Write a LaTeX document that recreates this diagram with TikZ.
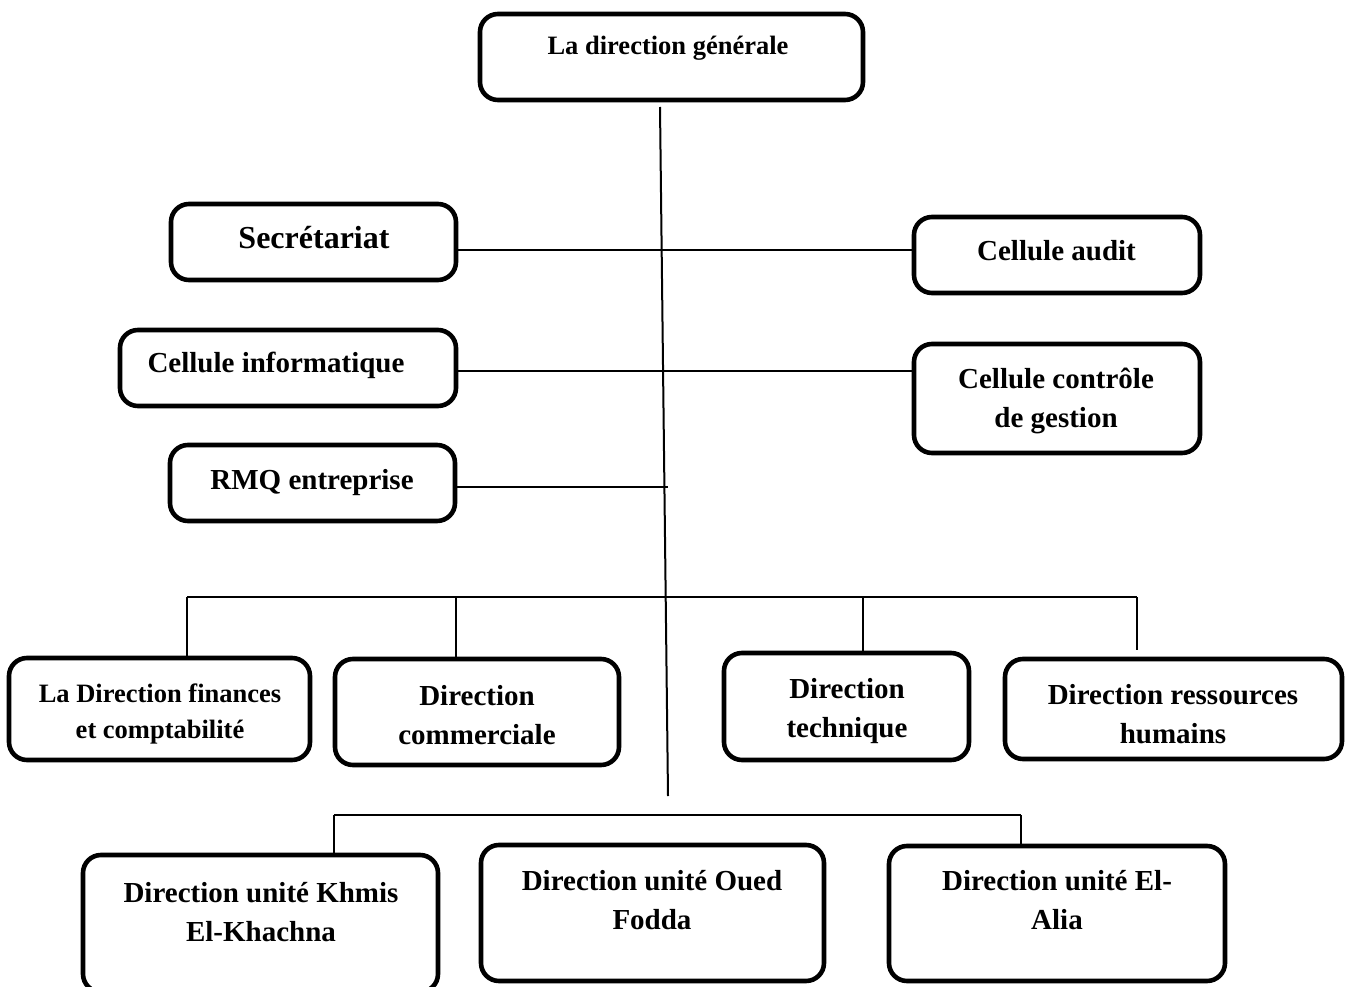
\documentclass[tikz,border=0pt]{standalone}
\usepackage{fontspec}
\setmainfont{Liberation Serif}
\usetikzlibrary{calc}
% centred lines whose baseline is the baseline of the first line
\newcommand\stacked[1]{\begin{tabular}[t]{@{}c@{}}#1\end{tabular}}
\begin{document}
\begin{tikzpicture}[x=1pt,y=-1pt,
  unitbox/.style={draw, line width=4.6pt, rounded corners=18pt, inner sep=0pt},
  boxtext/.style={anchor=base, inner sep=0pt, font=\bfseries\fontsize{29}{39}\selectfont},
  smalltext/.style={anchor=base, inner sep=0pt, font=\bfseries\fontsize{26.5}{36}\selectfont},
  bigtext/.style={anchor=base, inner sep=0pt, font=\bfseries\fontsize{32}{40}\selectfont},
  link/.style={line width=2pt},
  buslink/.style={line width=1.8pt}]
\useasboundingbox (0,0) rectangle (1347,987);

% ---- boxes ----
\node[unitbox, minimum width=383pt, minimum height=86pt]  (dg)   at (671.5,57)   {};
\node[unitbox, minimum width=285pt, minimum height=76pt]  (sec)  at (313.5,242)  {};
\node[unitbox, minimum width=286pt, minimum height=76pt]  (aud)  at (1057,255)   {};
\node[unitbox, minimum width=336pt, minimum height=76pt]  (inf)  at (288,368)    {};
\node[unitbox, minimum width=286pt, minimum height=109pt] (ctl)  at (1057,398.5) {};
\node[unitbox, minimum width=285pt, minimum height=76pt]  (rmq)  at (312.5,483)  {};
\node[unitbox, minimum width=301pt, minimum height=102pt] (fin)  at (159.5,709)  {};
\node[unitbox, minimum width=284pt, minimum height=106pt] (com)  at (477,712)    {};
\node[unitbox, minimum width=245pt, minimum height=107pt] (tec)  at (846.5,706.5){};
\node[unitbox, minimum width=337pt, minimum height=100pt] (rh)   at (1173.5,709) {};
\node[unitbox, minimum width=355pt, minimum height=137pt] (kh)   at (260.5,923.5){};
\node[unitbox, minimum width=343pt, minimum height=136pt] (oued) at (652.5,913)  {};
\node[unitbox, minimum width=336pt, minimum height=135pt] (alia) at (1057,913.5) {};

% ---- texts ----
\node[smalltext] (tdg)   at (668,55)    {La direction générale};
\node[bigtext]   (tsec)  at (314,249)   {Secrétariat};
\node[boxtext]   (taud)  at (1056.5,261){Cellule audit};
\node[boxtext]   (tinf)  at (276,372)   {Cellule informatique};
\node[boxtext]   (tctl)  at (1056,388)  {\stacked{Cellule contrôle\\de gestion}};
\node[boxtext]   (trmq)  at (312,489)   {RMQ entreprise};
\node[smalltext] (tfin)  at (160,702)   {\stacked{La Direction finances\\et comptabilité}};
\node[boxtext]   (tcom)  at (477,705)   {\stacked{Direction\\commerciale}};
\node[boxtext]   (ttec)  at (847,698)   {\stacked{Direction\\technique}};
\node[boxtext]   (trh)   at (1173,704)  {\stacked{Direction ressources\\humains}};
\node[boxtext]   (tkh)   at (261,902)   {\stacked{Direction unité Khmis\\El-Khachna}};
\node[boxtext]   (toued) at (652,890)   {\stacked{Direction unité Oued\\Fodda}};
\node[boxtext]   (talia) at (1057,890)  {\stacked{Direction unité El-\\Alia}};

% ---- trunk and branches ----
\coordinate (top)  at (660,107);
\coordinate (foot) at (668,796);
\draw[link] (top) -- (foot);

\coordinate (j1) at (0,250);
\coordinate (j2) at (0,371);
\coordinate (j3) at (668,487);
\draw[link] (sec.east |- j1) -- (aud.west |- j1);
\draw[link] (inf.east |- j2) -- (ctl.west |- j2);
\draw[link] (rmq.east |- j3) -- (j3);

% ---- directions bus ----
\coordinate (b1) at (187,597);
\coordinate (b2) at (456,597);
\coordinate (b3) at (863,597);
\coordinate (b4) at (1137,597);
\draw[buslink] (b1) -- (b4);
\draw[buslink] (b1) -- (b1 |- fin.north);
\draw[buslink] (b2) -- (b2 |- com.north);
\draw[buslink] (b3) -- (b3 |- tec.north);
\draw[buslink] (b4) -- ($(b4 |- rh.north)+(0,-7)$);

% ---- units bus ----
\coordinate (u1) at (334,815);
\coordinate (u2) at (1021,815);
\draw[buslink] (u1) -- (u2);
\draw[buslink] (u1) -- (u1 |- kh.north);
\draw[buslink] (u2) -- (u2 |- alia.north);
\end{tikzpicture}
\end{document}
